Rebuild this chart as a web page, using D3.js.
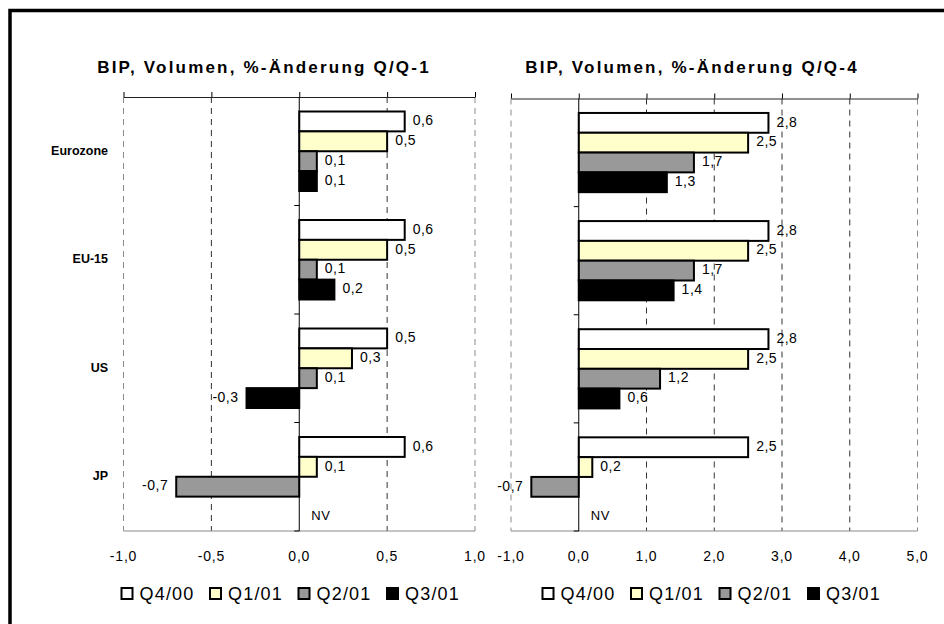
<!DOCTYPE html>
<html>
<head>
<meta charset="utf-8">
<script src="https://cdn.jsdelivr.net/npm/d3@7"></script>
<style>
  body { margin: 0; background: #fff; }
  svg { display: block; font-family: "Liberation Sans", Arial, sans-serif; }
</style>
</head>
<body>
<svg id="chart" width="944" height="624"></svg>
<script>
// categories and series
const categories = ["Eurozone", "EU-15", "US", "JP"];
const seriesNames = ["Q4/00", "Q1/01", "Q2/01", "Q3/01"];
const seriesColors = ["#ffffff", "#ffffcc", "#999999", "#000000"];

// Q/Q-1 values (null = not available)
const qq1Q400 = [0.6, 0.6, 0.5, 0.6];
const qq1Q101 = [0.5, 0.5, 0.3, 0.1];
const qq1Q201 = [0.1, 0.1, 0.1, -0.7];
const qq1Q301 = [0.1, 0.2, -0.3, null];

// Q/Q-4 values
const qq4Q400 = [2.8, 2.8, 2.8, 2.5];
const qq4Q101 = [2.5, 2.5, 2.5, 0.2];
const qq4Q201 = [1.7, 1.7, 1.2, -0.7];
const qq4Q301 = [1.3, 1.4, 0.6, null];

// axis ticks
const qq1Ticks = [-1, -0.5, 0, 0.5, 1];
const qq4Ticks = [-1, 0, 1, 2, 3, 4, 5];

const deLocale = d3.formatLocale({decimal: ",", thousands: ".", grouping: [3], currency: ["", " €"], minus: "-"});
const fmt = deLocale.format(".1f");

const svg = d3.select("#chart");
const plotBottom = 531;

// outer frame (only top and left edges are visible)
svg.append("rect")
    .attr("x", 10)
    .attr("y", 10.5)
    .attr("width", 1000)
    .attr("height", 1000)
    .attr("fill", "none")
    .attr("stroke", "#000")
    .attr("stroke-width", 3.5);

const panels = [
    {
        title: "BIP, Volumen, %-Änderung Q/Q-1",
        titleX: 264,
        domain: [-1, 1],
        left: 123.5, right: 475, top: 97,
        ticks: qq1Ticks,
        values: [qq1Q400, qq1Q101, qq1Q201, qq1Q301],
        legendX: 120.5,
        showCategories: true
    },
    {
        title: "BIP, Volumen, %-Änderung Q/Q-4",
        titleX: 692,
        domain: [-1, 5],
        left: 511, right: 917.5, top: 98.5,
        ticks: qq4Ticks,
        values: [qq4Q400, qq4Q101, qq4Q201, qq4Q301],
        legendX: 541.5,
        showCategories: false
    }
];

panels.forEach(p => drawPanel(p));

function drawPanel(panel)
{
    const x = d3.scaleLinear().domain(panel.domain).range([panel.left, panel.right]);
    const y = d3.scaleBand().domain(categories).range([panel.top, plotBottom]);
    const ySub = d3.scaleBand().domain(seriesNames).range([0, y.bandwidth()]).paddingOuter(0.73);

    const g = svg.append("g");

    // Title
    g.append("text")
        .attr("x", panel.titleX)
        .attr("y", 73)
        .attr("text-anchor", "middle")
        .attr("font-size", 17)
        .attr("font-weight", "bold")
        .attr("letter-spacing", 2.2)
        .text(panel.title);

    // Gridlines (dashed), skip the zero line
    g.selectAll(".grid")
        .data(panel.ticks.filter(t => t !== 0))
        .join("line")
        .attr("x1", d => x(d))
        .attr("x2", d => x(d))
        .attr("y1", panel.top)
        .attr("y2", plotBottom)
        .attr("stroke", d => (d === panel.domain[0] || d === panel.domain[1]) ? "#8a8a8a" : "#333")
        .attr("stroke-width", 1)
        .attr("stroke-dasharray", "6,5");

    // bottom border
    g.append("line")
        .attr("x1", panel.left)
        .attr("x2", panel.right)
        .attr("y1", plotBottom)
        .attr("y2", plotBottom)
        .attr("stroke", "#8a8a8a");

    // top line with cross ticks
    g.append("g")
        .attr("transform", `translate(0,${panel.top})`)
        .call(d3.axisTop(x).tickValues(panel.ticks).tickSize(5).tickSizeOuter(0).tickFormat(""))
        .call(a => a.select(".domain").attr("stroke", "#222"));

    // tick labels at the bottom
    g.selectAll(".tick-label")
        .data(panel.ticks)
        .join("text")
        .attr("x", d => x(d))
        .attr("y", 557)
        .attr("text-anchor", "middle")
        .attr("dominant-baseline", "middle")
        .attr("font-size", 14)
        .attr("letter-spacing", 0.8)
        .text(d => fmt(d));

    // Bars
    categories.forEach((cat, ci) => {
        seriesNames.forEach((s, si) => {
            const v = panel.values[si][ci];
            const by = y(cat) + ySub(s);
            if (v === null) {
                g.append("text")
                    .attr("x", x(0) + 12)
                    .attr("y", by + ySub.bandwidth())
                    .attr("dominant-baseline", "middle")
                    .attr("font-size", 13)
                    .attr("letter-spacing", 0.5)
                    .text("NV");
                return;
            }
            g.append("rect")
                .attr("x", x(Math.min(0, v)))
                .attr("y", by)
                .attr("width", Math.abs(x(v) - x(0)))
                .attr("height", ySub.bandwidth())
                .attr("fill", seriesColors[si])
                .attr("stroke", "#000")
                .attr("stroke-width", 2);

            g.append("text")
                .attr("x", v < 0 ? x(v) - 8 : x(v) + 8)
                .attr("y", by + ySub.bandwidth() / 2)
                .attr("text-anchor", v < 0 ? "end" : "start")
                .attr("dominant-baseline", "middle")
                .attr("font-size", 14)
                .attr("letter-spacing", 0.5)
                .text(fmt(v));
        });
    });

    // vertical zero axis
    g.append("line")
        .attr("x1", x(0))
        .attr("x2", x(0))
        .attr("y1", panel.top)
        .attr("y2", plotBottom)
        .attr("stroke", "#000");

    g.selectAll(".cat-tick")
        .data(categories)
        .join("line")
        .attr("x1", x(0) - 5)
        .attr("x2", x(0))
        .attr("y1", d => y(d) + y.bandwidth())
        .attr("y2", d => y(d) + y.bandwidth())
        .attr("stroke", "#000");

    // Category labels
    if (panel.showCategories) {
        g.selectAll(".cat-label")
            .data(categories)
            .join("text")
            .attr("x", 108)
            .attr("y", d => y(d) + y.bandwidth() / 2)
            .attr("text-anchor", "end")
            .attr("dominant-baseline", "middle")
            .attr("font-size", 12.5)
            .attr("font-weight", "bold")
            .text(d => d);
    }

    // Legend
    const legend = g.append("g")
        .attr("transform", `translate(${panel.legendX},594)`);
    const item = legend.selectAll(".item")
        .data(seriesNames)
        .join("g")
        .attr("transform", (d, i) => `translate(${i * 88.5},0)`);
    item.append("rect")
        .attr("x", 1)
        .attr("y", -6)
        .attr("width", 11)
        .attr("height", 11)
        .attr("fill", (d, i) => seriesColors[i])
        .attr("stroke", "#000")
        .attr("stroke-width", 2);
    item.append("text")
        .attr("x", 19)
        .attr("y", 1)
        .attr("dominant-baseline", "middle")
        .attr("font-size", 18)
        .attr("letter-spacing", 1.2)
        .text(d => d);
}
</script>
</body>
</html>
